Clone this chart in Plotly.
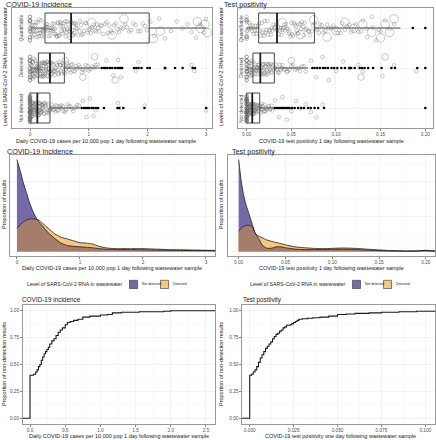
import numpy as np
import plotly.graph_objects as go

W, H = 436, 440
FONT = "Liberation Sans, Arial, Helvetica, sans-serif"

# ---------------- data: row 1 (box + jitter) ----------------
levels = ["Not detected", "Detected", "Quantifiable"]

inc_q1 = [0.0, 0.142, 0.255]
inc_median = [0.125, 0.34, 0.70]
inc_q3 = [0.34, 0.585, 2.03]
inc_lower = [0.0, 0.0, 0.0]
inc_upper = [0.85, 1.19, 3.0]
inc_out_nd = [0.88, 0.92, 0.95, 0.98, 1.01, 1.05, 1.08, 1.12, 1.16, 1.26, 1.49, 1.52, 1.59, 1.95, 3.0]
inc_out_det = [1.22, 1.26, 1.29, 1.32, 1.36, 1.40, 1.45, 1.49, 1.52, 1.55, 1.57, 1.77, 1.81,
               1.85, 1.90, 2.0, 2.04, 2.30, 2.47, 2.60, 2.77, 2.81]
inc_out_quant = []

inc_nd_core = [0, 0, 0, 0, 0, 0, 0, 0, 0, 0, 0, 0, 0, 0, 0, 0, 0, 0, 0, 0, 0, 0, 0, 0,
               0.01, 0.01, 0.02, 0.02, 0.03, 0.03, 0.04, 0.05, 0.05, 0.06, 0.07, 0.07, 0.08, 0.09,
               0.1, 0.1, 0.11, 0.12, 0.13, 0.14, 0.15, 0.16, 0.17, 0.18, 0.19, 0.2, 0.21, 0.22,
               0.24, 0.25, 0.27, 0.29, 0.31, 0.33, 0.35, 0.38, 0.41, 0.44, 0.47, 0.5, 0.53, 0.57,
               0.61, 0.66, 0.71, 0.77, 0.83]
inc_nd_core_b = [0, 0, 0, 0, 0, 0, 0, 0, 0, 0, 0, 0, 0, 0, 0, 0,
                 0.005, 0.015, 0.025, 0.035, 0.045, 0.055, 0.065, 0.075, 0.085, 0.095, 0.105,
                 0.115, 0.125, 0.135, 0.145, 0.155, 0.165, 0.175, 0.185, 0.195, 0.205, 0.215,
                 0.23, 0.245, 0.26, 0.28, 0.3, 0.32, 0.34, 0.37, 0.4, 0.43, 0.46, 0.49, 0.52,
                 0.56, 0.6, 0.64, 0.69, 0.74, 0.8]
inc_nd_tail = [0.9, 0.96, 1.02, 1.08, 1.12, 1.5, 1.55, 1.95, 3.0]
inc_det_core = [0, 0, 0, 0, 0, 0, 0, 0, 0, 0,
                0.02, 0.03, 0.05, 0.06, 0.08, 0.09, 0.1, 0.11, 0.12, 0.13, 0.14, 0.15, 0.16, 0.17,
                0.18, 0.19, 0.2, 0.21, 0.22, 0.23, 0.24, 0.25, 0.26, 0.27, 0.28, 0.3, 0.31, 0.32,
                0.34, 0.35, 0.37, 0.38, 0.4, 0.42, 0.43, 0.45, 0.47, 0.49, 0.51, 0.53, 0.55, 0.57,
                0.6, 0.63, 0.66, 0.69, 0.72, 0.76, 0.8, 0.85, 0.9, 0.95, 1.0, 1.06, 1.12]
inc_det_core_b = [0, 0, 0, 0, 0, 0, 0, 0, 0.01, 0.015, 0.025, 0.035, 0.04, 0.045, 0.055, 0.065,
                  0.07, 0.075, 0.085, 0.095, 0.105, 0.115, 0.125, 0.135, 0.145, 0.155, 0.165,
                  0.175, 0.185, 0.195, 0.205, 0.215, 0.225, 0.235, 0.245, 0.255, 0.265, 0.275,
                  0.285, 0.295, 0.305, 0.315, 0.325, 0.335, 0.345, 0.355, 0.365, 0.375, 0.39,
                  0.41, 0.44, 0.46, 0.48, 0.5, 0.52, 0.54, 0.56, 0.58, 0.61, 0.64, 0.67, 0.7,
                  0.74, 0.78, 0.83, 0.88, 0.93, 0.98, 1.03, 1.09, 1.15]
inc_det_tail = [1.3, 1.42, 1.5, 1.55, 1.8, 1.85, 2.3, 2.75, 2.8]
inc_det_big = [0.6, 0.9, 1.1, 1.45]
inc_quant_core = [0, 0, 0, 0, 0, 0, 0, 0,
                  0.02, 0.04, 0.06, 0.08, 0.1, 0.12, 0.14, 0.16, 0.18, 0.2, 0.22, 0.24, 0.26, 0.28,
                  0.3, 0.32, 0.34, 0.36, 0.38, 0.4, 0.42, 0.45, 0.48, 0.5, 0.53, 0.56, 0.59, 0.62,
                  0.65, 0.68, 0.71, 0.74, 0.77, 0.8, 0.84, 0.88, 0.92, 0.96, 1.0, 1.04, 1.08, 1.12,
                  1.16, 1.2, 1.25, 1.3, 1.35, 1.4, 1.46, 1.52, 1.58, 1.65, 1.72, 1.8, 1.88, 1.96]
inc_quant_core_b = [0, 0, 0, 0, 0, 0, 0.01, 0.03, 0.05, 0.07, 0.09, 0.11, 0.13, 0.15, 0.17, 0.19,
                    0.21, 0.23, 0.25, 0.27, 0.29, 0.31, 0.33, 0.35, 0.37, 0.39, 0.41, 0.43, 0.44,
                    0.46, 0.47, 0.49, 0.51, 0.52, 0.54, 0.55, 0.57, 0.58, 0.6, 0.61, 0.63, 0.64,
                    0.66, 0.67, 0.69, 0.7, 0.72, 0.73, 0.75, 0.76, 0.78, 0.79, 0.82, 0.85, 0.87,
                    0.9, 0.94, 0.98, 1.02, 1.06, 1.1, 1.14, 1.18, 1.22, 1.28, 1.33, 1.38, 1.43,
                    1.49, 1.55, 1.62, 1.69, 1.76, 1.84, 1.92, 1.99]
inc_quant_tail = [2.05, 2.12, 2.2, 2.3, 2.4, 2.5, 2.6, 2.68, 2.75, 2.83, 2.9, 2.96, 3.0]
inc_quant_big = [1.05, 1.4, 1.6, 2.1, 2.22, 2.85, 2.9, 2.98, 3.02]

tp_q1 = [0.0, 0.007, 0.0134]
tp_median = [0.0063, 0.0153, 0.034]
tp_q3 = [0.0146, 0.031, 0.076]
tp_lower = [0.0, 0.0, 0.0]
tp_upper = [0.0295, 0.0687, 0.172]
tp_out_nd = [0.0313, 0.0332, 0.035, 0.037, 0.0388, 0.0407, 0.0425, 0.0444, 0.0463, 0.048, 0.0507,
             0.0537, 0.0575, 0.061, 0.0642, 0.0687, 0.0717, 0.076, 0.08, 0.0866, 0.20]
tp_out_det = [0.0735, 0.076, 0.079, 0.082, 0.0855, 0.088, 0.091, 0.095, 0.098, 0.1015, 0.106, 0.11,
              0.115, 0.117, 0.121, 0.1265, 0.129, 0.132, 0.136, 0.1415, 0.151, 0.162, 0.166, 0.191, 0.20]
tp_out_quant = [0.186, 0.20]

tp_nd_core = [0, 0, 0, 0, 0, 0, 0, 0, 0, 0, 0, 0, 0, 0, 0, 0, 0, 0, 0, 0, 0, 0, 0, 0,
              0.0005, 0.001, 0.001, 0.0015, 0.002, 0.002, 0.0025, 0.003, 0.003, 0.0035, 0.004,
              0.0045, 0.005, 0.0055, 0.006, 0.0065, 0.007, 0.0075, 0.008, 0.0085, 0.009, 0.0095,
              0.01, 0.011, 0.012, 0.013, 0.014, 0.015, 0.016, 0.017, 0.018, 0.019, 0.02, 0.021,
              0.022, 0.024, 0.026, 0.028]
tp_nd_core_b = [0, 0, 0, 0, 0, 0, 0, 0, 0, 0, 0, 0, 0, 0, 0, 0,
                0.0003, 0.0008, 0.0012, 0.0018, 0.0022, 0.0028, 0.0032, 0.0038, 0.0042, 0.0048,
                0.0052, 0.0058, 0.0062, 0.0068, 0.0072, 0.0078, 0.0082, 0.0088, 0.0092, 0.0098,
                0.0105, 0.0115, 0.0125, 0.0135, 0.0145, 0.016, 0.018, 0.02, 0.023, 0.025, 0.027,
                0.029]
tp_nd_tail = [0.032, 0.036, 0.04, 0.045, 0.05, 0.055, 0.06, 0.066, 0.072, 0.078, 0.085]
tp_det_core = [0, 0, 0, 0, 0, 0, 0, 0, 0, 0,
               0.001, 0.002, 0.003, 0.004, 0.004, 0.005, 0.006, 0.007, 0.007, 0.008, 0.009, 0.01,
               0.011, 0.012, 0.012, 0.013, 0.014, 0.015, 0.016, 0.017, 0.018, 0.019, 0.02, 0.021,
               0.022, 0.023, 0.024, 0.026, 0.027, 0.028, 0.03, 0.032, 0.034, 0.036, 0.038, 0.04,
               0.043, 0.046, 0.05, 0.054, 0.058, 0.062, 0.066]
tp_det_core_b = [0, 0, 0, 0, 0, 0, 0, 0,
                 0.0005, 0.0015, 0.0025, 0.0035, 0.0045, 0.0055, 0.0065, 0.0075, 0.0085, 0.0095,
                 0.0105, 0.0115, 0.0125, 0.0135, 0.0145, 0.0155, 0.0165, 0.0175, 0.0185, 0.0195,
                 0.0205, 0.0215, 0.0225, 0.0235, 0.0245, 0.0255, 0.0265, 0.0275, 0.029, 0.031,
                 0.033, 0.035, 0.037, 0.039, 0.042, 0.045, 0.048, 0.052, 0.056, 0.06, 0.064]
tp_det_tail = [0.072, 0.078, 0.085, 0.092, 0.1, 0.108, 0.115, 0.125, 0.13, 0.152, 0.165, 0.19]
tp_det_big = [0.05, 0.128, 0.155]
tp_quant_core = [0, 0, 0, 0, 0, 0,
                 0.002, 0.004, 0.006, 0.008, 0.01, 0.012, 0.014, 0.016, 0.018, 0.02, 0.022, 0.024,
                 0.026, 0.028, 0.03, 0.032, 0.034, 0.036, 0.038, 0.04, 0.042, 0.045, 0.048, 0.051,
                 0.054, 0.057, 0.06, 0.063, 0.066, 0.07, 0.074, 0.078, 0.082, 0.086, 0.09, 0.095,
                 0.1, 0.105, 0.11, 0.115, 0.12, 0.125]
tp_quant_core_b = [0, 0, 0, 0, 0.001, 0.003, 0.005, 0.007, 0.009, 0.011, 0.013, 0.015, 0.017,
                   0.019, 0.021, 0.023, 0.025, 0.027, 0.029, 0.031, 0.033, 0.035, 0.037, 0.039,
                   0.041, 0.043, 0.044, 0.046, 0.047, 0.049, 0.05, 0.052, 0.053, 0.055, 0.056,
                   0.058, 0.059, 0.061, 0.062, 0.064, 0.065, 0.067, 0.069, 0.071, 0.073, 0.076,
                   0.079, 0.081, 0.084, 0.088, 0.092, 0.097, 0.102, 0.107, 0.112, 0.117, 0.122,
                   0.128, 0.134, 0.141, 0.148]
tp_quant_tail = [0.13, 0.135, 0.14, 0.145, 0.15, 0.155, 0.16, 0.165]
tp_quant_big = [0.04, 0.06, 0.075, 0.09, 0.1, 0.11, 0.12, 0.13, 0.14, 0.15, 0.155, 0.16, 0.165]

inc_ticks = [0, 1, 2, 3]
inc_ticktext = ["0", "1", "2", "3"]
tp_ticks = [0.0, 0.05, 0.10, 0.15, 0.20]
tp_ticktext = ["0.00", "0.05", "0.10", "0.15", "0.20"]

# ---------------- data: row 2 (densities, scaled to peak) ----------------
dens_inc_x = [0, 0.05, 0.1, 0.15, 0.2, 0.25, 0.3, 0.35, 0.4, 0.45, 0.5, 0.55, 0.6, 0.7, 0.8, 0.9,
              1.0, 1.1, 1.2, 1.3, 1.4, 1.5, 1.6, 1.8, 2.0, 2.2, 2.4, 2.6, 2.8, 3.0, 3.2]
dens_inc_nd = [1.0, 0.88, 0.75, 0.64, 0.53, 0.44, 0.37, 0.32, 0.28, 0.24, 0.20, 0.17, 0.14, 0.09,
               0.065, 0.055, 0.05, 0.045, 0.04, 0.03, 0.025, 0.022, 0.02, 0.02, 0.018, 0.015,
               0.012, 0.01, 0.01, 0.01, 0.008]
dens_inc_det = [0.25, 0.29, 0.32, 0.34, 0.355, 0.355, 0.35, 0.34, 0.31, 0.28, 0.25, 0.22, 0.19,
                0.155, 0.135, 0.115, 0.095, 0.09, 0.08, 0.055, 0.04, 0.032, 0.03, 0.03, 0.03,
                0.025, 0.02, 0.018, 0.015, 0.012, 0.01]
dens_tp_x = [0, 0.0025, 0.005, 0.0075, 0.01, 0.0125, 0.015, 0.0175, 0.02, 0.0225, 0.025, 0.03,
             0.035, 0.04, 0.045, 0.05, 0.06, 0.07, 0.08, 0.09, 0.1, 0.11, 0.12, 0.13, 0.14, 0.15,
             0.16, 0.17, 0.18, 0.19, 0.2, 0.21]
dens_tp_nd = [1.0, 0.78, 0.63, 0.52, 0.44, 0.36, 0.28, 0.2, 0.16, 0.12, 0.07, 0.035, 0.035, 0.05,
              0.05, 0.04, 0.025, 0.02, 0.02, 0.02, 0.022, 0.025, 0.022, 0.018, 0.014, 0.008,
              0.005, 0.004, 0.003, 0.004, 0.008, 0.003]
dens_tp_det = [0.22, 0.25, 0.27, 0.28, 0.285, 0.28, 0.265, 0.2, 0.175, 0.16, 0.15, 0.125, 0.11,
               0.098, 0.085, 0.072, 0.05, 0.04, 0.033, 0.03, 0.033, 0.037, 0.035, 0.03, 0.022,
               0.016, 0.01, 0.007, 0.005, 0.006, 0.012, 0.004]

# ---------------- data: row 3 (ECDF) ----------------
ecdf_inc_x = [-0.2, 0, 0.02, 0.05, 0.08, 0.1, 0.12, 0.14, 0.16, 0.18, 0.2, 0.22, 0.24, 0.26, 0.28,
              0.31, 0.34, 0.37, 0.4, 0.43, 0.46, 0.5, 0.53, 0.57, 0.62, 0.68, 0.75, 0.85, 1.0, 1.1,
              1.17, 1.3, 1.55, 1.9, 2.0, 2.7]
ecdf_inc_y = [0, 0.40, 0.40, 0.41, 0.43, 0.45, 0.48, 0.5, 0.54, 0.57, 0.6, 0.62, 0.64, 0.66, 0.69,
              0.72, 0.74, 0.77, 0.8, 0.82, 0.84, 0.87, 0.89, 0.9, 0.91, 0.92, 0.94, 0.95, 0.96,
              0.965, 0.98, 0.985, 0.99, 0.995, 1.0, 1.0]
ecdf_tp_x = [-0.01, 0, 0.001, 0.002, 0.003, 0.004, 0.005, 0.006, 0.007, 0.008, 0.009, 0.01, 0.011,
             0.012, 0.013, 0.014, 0.015, 0.016, 0.017, 0.018, 0.019, 0.02, 0.021, 0.0225, 0.023,
             0.024, 0.025, 0.026, 0.027, 0.028, 0.03, 0.033, 0.036, 0.04, 0.045, 0.05, 0.055,
             0.06, 0.068, 0.075, 0.085, 0.095, 0.11]
ecdf_tp_y = [0, 0.40, 0.41, 0.43, 0.45, 0.48, 0.52, 0.56, 0.59, 0.62, 0.65, 0.67, 0.69, 0.71,
             0.74, 0.76, 0.78, 0.79, 0.81, 0.82, 0.84, 0.85, 0.865, 0.865, 0.87, 0.88, 0.89, 0.9,
             0.91, 0.92, 0.925, 0.93, 0.935, 0.94, 0.95, 0.965, 0.97, 0.975, 0.98, 0.985, 0.99,
             0.995, 1.0]

ecdf_inc_ticks = [0, 0.5, 1.0, 1.5, 2.0, 2.5]
ecdf_inc_ticktext = ["0.0", "0.5", "1.0", "1.5", "2.0", "2.5"]
ecdf_tp_ticks = [0, 0.025, 0.05, 0.075, 0.1]
ecdf_tp_ticktext = ["0.000", "0.025", "0.050", "0.075", "0.100"]
prop_ticks = [0, 0.25, 0.5, 0.75, 1.0]
prop_ticktext = ["0.00", "0.25", "0.50", "0.75", "1.00"]

# ---------------- styling ----------------
BOXC = "#333333"
PTC = "rgba(105,105,105,0.62)"
COL_ND = "#7569A8"
COL_DET = "#F8C77D"
COL_OVL = "#A57D6C"
GRID = "#EBEBEB"
MINOR = "#F4F4F4"
BORDER = "#6E6E6E"
TICKC = "#4D4D4D"
TEXTC = "#1a1a1a"
TICKSZ = 4.7
AXT = 5.5


def px(x):
    return x / W


def py(y):
    return 1 - y / H


def mids(v):
    return [(a + b) / 2 for a, b in zip(v[:-1], v[1:])]


fig = go.Figure()


def box_panel(xa, ya, q1, med, q3, lo, hi, point_groups, outliers):
    for i, lvl in enumerate(levels):
        fig.add_trace(go.Box(y=[lvl], q1=[q1[i]], median=[med[i]], q3=[q3[i]],
                             lowerfence=[lo[i]], upperfence=[hi[i]], orientation="h",
                             width=0.75, whiskerwidth=0, fillcolor="rgba(0,0,0,0)",
                             line=dict(color=BOXC, width=0.9), boxpoints=False,
                             xaxis=xa, yaxis=ya, showlegend=False, hoverinfo="skip"))
        for vals, size in point_groups[i]:
            if not vals:
                continue
            fig.add_trace(go.Box(x=vals, y=[lvl] * len(vals), orientation="h", boxpoints="all",
                                 jitter=1, pointpos=0, width=0.72, fillcolor="rgba(0,0,0,0)",
                                 line=dict(width=0, color="rgba(0,0,0,0)"),
                                 marker=dict(symbol="circle-open", size=size, color=PTC,
                                             line=dict(width=0.6, color=PTC)),
                                 xaxis=xa, yaxis=ya, showlegend=False, hoverinfo="skip"))
        if outliers[i]:
            fig.add_trace(go.Scatter(x=outliers[i], y=[lvl] * len(outliers[i]), mode="markers",
                                     marker=dict(color="black", size=2.6),
                                     xaxis=xa, yaxis=ya, showlegend=False, hoverinfo="skip"))


S, B = 3.6, 8.5
box_panel("x", "y", inc_q1, inc_median, inc_q3, inc_lower, inc_upper,
          [[(inc_nd_core, S), (inc_nd_core_b, S), (inc_nd_tail, S)],
           [(inc_det_core, S), (inc_det_core_b, S), (inc_det_tail, S), (inc_det_big, 6.5)],
           [(inc_quant_core, S), (inc_quant_core_b, S), (inc_quant_tail, S), (inc_quant_big, B)]],
          [inc_out_nd, inc_out_det, inc_out_quant])
box_panel("x2", "y2", tp_q1, tp_median, tp_q3, tp_lower, tp_upper,
          [[(tp_nd_core, S), (tp_nd_core_b, S), (tp_nd_tail, S)],
           [(tp_det_core, S), (tp_det_core_b, S), (tp_det_tail, S), (tp_det_big, 6.5)],
           [(tp_quant_core, S), (tp_quant_core_b, S), (tp_quant_tail, S), (tp_quant_big, B)]],
          [tp_out_nd, tp_out_det, tp_out_quant])


def density_panel(xa, ya, xs, nd, det):
    ovl = np.minimum(np.array(nd), np.array(det)).tolist()
    for ys, col in ((nd, COL_ND), (det, COL_DET), (ovl, COL_OVL)):
        fig.add_trace(go.Scatter(x=xs, y=ys, mode="lines", fill="tozeroy", fillcolor=col,
                                 line=dict(width=0, shape="spline", smoothing=0.5),
                                 xaxis=xa, yaxis=ya, showlegend=False, hoverinfo="skip"))
    for ys in (nd, det):
        fig.add_trace(go.Scatter(x=xs, y=ys, mode="lines",
                                 line=dict(width=0.8, color=TEXTC, shape="spline", smoothing=0.5),
                                 xaxis=xa, yaxis=ya, showlegend=False, hoverinfo="skip"))


density_panel("x3", "y3", dens_inc_x, dens_inc_nd, dens_inc_det)
density_panel("x4", "y4", dens_tp_x, dens_tp_nd, dens_tp_det)

fig.add_trace(go.Scatter(x=ecdf_inc_x, y=ecdf_inc_y, mode="lines",
                         line=dict(shape="hv", color=TEXTC, width=1.1),
                         xaxis="x5", yaxis="y5", showlegend=False, hoverinfo="skip"))
fig.add_trace(go.Scatter(x=ecdf_tp_x, y=ecdf_tp_y, mode="lines",
                         line=dict(shape="hv", color=TEXTC, width=1.1),
                         xaxis="x6", yaxis="y6", showlegend=False, hoverinfo="skip"))

# ---------------- axes ----------------
base = dict(showline=True, mirror=True, linecolor=BORDER, linewidth=0.7, showgrid=True,
            gridcolor=GRID, gridwidth=0.6, zeroline=False, ticks="outside", ticklen=2,
            tickwidth=0.6, tickcolor="#333333", automargin=False,
            tickfont=dict(size=TICKSZ, color=TICKC, family=FONT))


def xax(dom, rng, tv, tt, anchor):
    return dict(base, domain=[px(dom[0]), px(dom[1])], range=rng, tickmode="array", tickvals=tv,
                ticktext=tt, anchor=anchor,
                minor=dict(tickmode="array", tickvals=mids(tv) + [tv[-1] + (tv[1] - tv[0]) / 2],
                           showgrid=True, gridcolor=MINOR, gridwidth=0.5, ticks=""))


def yax(dom, rng, anchor, **kw):
    return dict(base, domain=[py(dom[1]), py(dom[0])], range=rng, anchor=anchor, **kw)


dens_minor = dict(tickmode="array", tickvals=[0.19, 0.57, 0.95], showgrid=True,
                  gridcolor=MINOR, gridwidth=0.5, ticks="")
prop_minor = dict(tickmode="array", tickvals=mids(prop_ticks), showgrid=True,
                  gridcolor=MINOR, gridwidth=0.5, ticks="")

layout = dict(
    template="none",
    width=W, height=H, margin=dict(l=0, r=0, t=0, b=0, pad=0), autosize=False,
    paper_bgcolor="white", plot_bgcolor="white", boxmode="overlay",
    font=dict(family=FONT, color=TEXTC),
    xaxis=xax((12, 212), [-0.307, 3.10], inc_ticks, inc_ticktext, "y"),
    xaxis2=xax((238, 433), [-0.0097, 0.2086], tp_ticks, tp_ticktext, "y2"),
    xaxis3=xax((10, 215), [-0.111, 3.143], inc_ticks, inc_ticktext, "y3"),
    xaxis4=xax((228, 435), [-0.0114, 0.2097], tp_ticks, tp_ticktext, "y4"),
    xaxis5=xax((22.7, 215), [-0.104, 2.628], ecdf_inc_ticks, ecdf_inc_ticktext, "y5"),
    xaxis6=xax((242, 435.3), [-0.0044, 0.1057], ecdf_tp_ticks, ecdf_tp_ticktext, "y6"),
    yaxis=yax((8, 128), [-0.5, 2.5], "x", type="category", categoryorder="array",
              categoryarray=levels, showticklabels=False, ticks=""),
    yaxis2=yax((8, 128), [-0.5, 2.5], "x2", type="category", categoryorder="array",
               categoryarray=levels, showticklabels=False, ticks=""),
    yaxis3=yax((155, 256), [-0.05, 1.05], "x3", tickmode="array", tickvals=[0, 0.38, 0.76],
               showticklabels=False, ticks="", minor=dens_minor),
    yaxis4=yax((155, 256), [-0.05, 1.05], "x4", tickmode="array", tickvals=[0, 0.38, 0.76],
               showticklabels=False, ticks="", minor=dens_minor),
    yaxis5=yax((305, 424), [-0.053, 1.053], "x5", tickmode="array", tickvals=prop_ticks,
               ticktext=prop_ticktext, minor=prop_minor),
    yaxis6=yax((305, 424), [-0.053, 1.053], "x6", tickmode="array", tickvals=prop_ticks,
               ticktext=prop_ticktext, minor=prop_minor),
)

# ---------------- text ----------------
anns = []


def ann(text, x, y, size, xanchor="left", angle=0, xref="paper", yref="paper", color=TEXTC):
    anns.append(dict(text=text, x=x, y=y, xref=xref, yref=yref, xanchor=xanchor,
                     yanchor="middle", textangle=angle, showarrow=False,
                     font=dict(size=size, color=color, family=FONT)))


# row 1
ann("COVID-19 Incidence", px(4), py(4.5), 7.2)
ann("Test positivity", px(222), py(4.5), 7.2)
ann("Daily COVID-19 cases per 10,000 pop 1 day following wastewater sample", px(106), py(141), AXT, "center")
ann("COVID-19 test positivity 1 day following wastewater sample", px(331), py(141), AXT, "center")
ann("Levels of SARS-CoV-2 RNA found in wastewater", px(5), py(67), AXT, "center", -90)
ann("Levels of SARS-CoV-2 RNA found in wastewater", px(221), py(67), AXT, "center", -90)
for i, lvl in enumerate(levels):
    ann(lvl, px(20.5), i, TICKSZ + 0.3, "center", -90, yref="y", color=TICKC)
    ann(lvl, px(241), i, TICKSZ + 0.3, "center", -90, yref="y2", color=TICKC)

# row 2
ann("COVID-19 Incidence", px(5), py(151), 7.2)
ann("Test positivity", px(229.7), py(151), 7.2)
ann("Proportion of results", px(4), py(205), AXT, "center", -90)
ann("Proportion of results", px(221), py(205), AXT, "center", -90)
ann("Daily COVID-19 cases per 10,000 pop 1 day following wastewater sample", px(112), py(268), AXT, "center")
ann("COVID-19 test positivity 1 day following wastewater sample", px(331), py(268), AXT, "center")

legend_title = "Level of SARS-CoV-2 RNA in wastewater"
legend_labels = ["Not detected", "Detected"]
shapes = []
for off in (0, 223):
    ann(legend_title, px(25 + off), py(284.3), 5.2)
    for k, (lab, col) in enumerate(zip(legend_labels, [COL_ND, COL_DET])):
        x0 = 129.5 + off + k * 31
        shapes.append(dict(type="rect", xref="paper", yref="paper", x0=px(x0), x1=px(x0 + 8),
                           y0=py(288.5), y1=py(280.3), fillcolor=col,
                           line=dict(color="#333333", width=0.6)))
        ann(lab, px(x0 + 10.5), py(284.3), 3.4)

# row 3
ann("COVID-19 incidence", px(20), py(299.5), 6.4)
ann("Test positivity", px(240.7), py(299.5), 6.4)
ann("Proportion of non-detection results", px(4), py(364), AXT, "center", -90)
ann("Proportion of non-detection results", px(221), py(364), AXT, "center", -90)
ann("Daily COVID-19 cases per 10,000 pop 1 day following wastewater sample", px(119), py(436), AXT, "center")
ann("COVID-19 test positivity one day following wastewater sample", px(340), py(436), AXT, "center")

# thicker median lines (ggplot style)
for xa, ya, meds in (("x", "y", inc_median), ("x2", "y2", tp_median)):
    for i, m in enumerate(meds):
        shapes.append(dict(type="line", xref=xa, yref=ya, x0=m, x1=m, y0=i - 0.375, y1=i + 0.375,
                           line=dict(color=TEXTC, width=1.7)))

layout["annotations"] = anns
layout["shapes"] = shapes
fig.update_layout(**layout)
fig.write_html("out.html", config={"displayModeBar": False, "staticPlot": True},
               post_script="document.body.style.margin='0px';document.body.style.padding='0px';"
                           "document.body.style.overflow='hidden';")
